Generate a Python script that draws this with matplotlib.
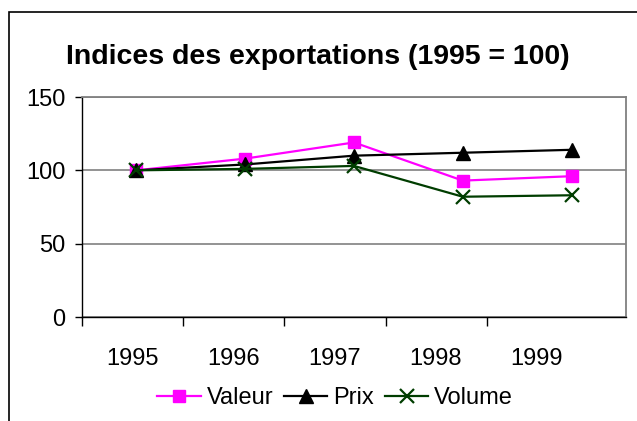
import matplotlib.pyplot as plt
from matplotlib.patches import Rectangle

years = ["1995", "1996", "1997", "1998", "1999"]
valeur = [100, 108, 119, 93, 96]
prix = [100, 104, 110, 112, 114]
volume = [100, 101, 103, 82, 83]

# the original uses a narrow Arial; no condensed face is installed here
FONT = ["Liberation Sans Narrow", "Liberation Sans", "DejaVu Sans"]
plt.rcParams["font.family"] = FONT

W, H = 637, 421
fig = plt.figure(figsize=(W / 100, H / 100), dpi=100)

# outer chart frame (runs off the right and bottom edges)
fig.add_artist(Rectangle((9 / W, -0.1), 1.2, (H - 12) / H + 0.1,
                         transform=fig.transFigure, fill=False,
                         edgecolor="black", linewidth=1.2))

ax = fig.add_axes([82 / W, 104 / H, 544 / W, 220 / H])
x = list(range(len(years)))

ax.plot(x, valeur, color="#ff00ff", marker="s", markersize=8.5, linewidth=1.6, label="Valeur")
ax.plot(x, prix, color="black", marker="^", markersize=9.5, linewidth=1.6, label="Prix")
ax.plot(x, volume, color="#003d00", marker="x", markersize=10, markeredgewidth=1.6,
        linewidth=1.6, label="Volume")

ax.set_xlim(-0.5, len(years) - 0.5)
ax.set_ylim(0, 150)
ax.set_yticks([0, 50, 100, 150])
ax.yaxis.grid(True, color="#808080", linewidth=1.2)
ax.set_axisbelow(True)

# the category labels in the original sit on a slightly tighter spacing
step = 0.93
ax.set_xticks([-0.5 + k * step for k in range(len(years))])
ax.set_xticklabels([])
ax.set_xticks([-0.04 + k * step for k in range(len(years))], minor=True)
ax.set_xticklabels(years, minor=True)
ax.tick_params(axis="x", which="major", length=6.5, width=1, direction="out")
ax.tick_params(axis="x", which="minor", length=0, pad=22, labelsize=17)
ax.tick_params(axis="y", length=5, width=1, direction="out", pad=7, labelsize=17)

for side in ("top", "right"):
    ax.spines[side].set_color("#808080")
    ax.spines[side].set_linewidth(1.3)
for side in ("left", "bottom"):
    ax.spines[side].set_color("black")
    ax.spines[side].set_linewidth(1.0)

fig.text(318 / W, (H - 57) / H, "Indices des exportations (1995 = 100)",
         ha="center", va="center", fontsize=20.5, fontweight="bold")

fig.legend(loc="center", bbox_to_anchor=(335 / W, (H - 398) / H), ncol=3,
           frameon=False, fontsize=17, handlelength=1.85, handletextpad=0.25,
           columnspacing=0.45, borderaxespad=0)

fig.savefig("out.png", dpi=100)
